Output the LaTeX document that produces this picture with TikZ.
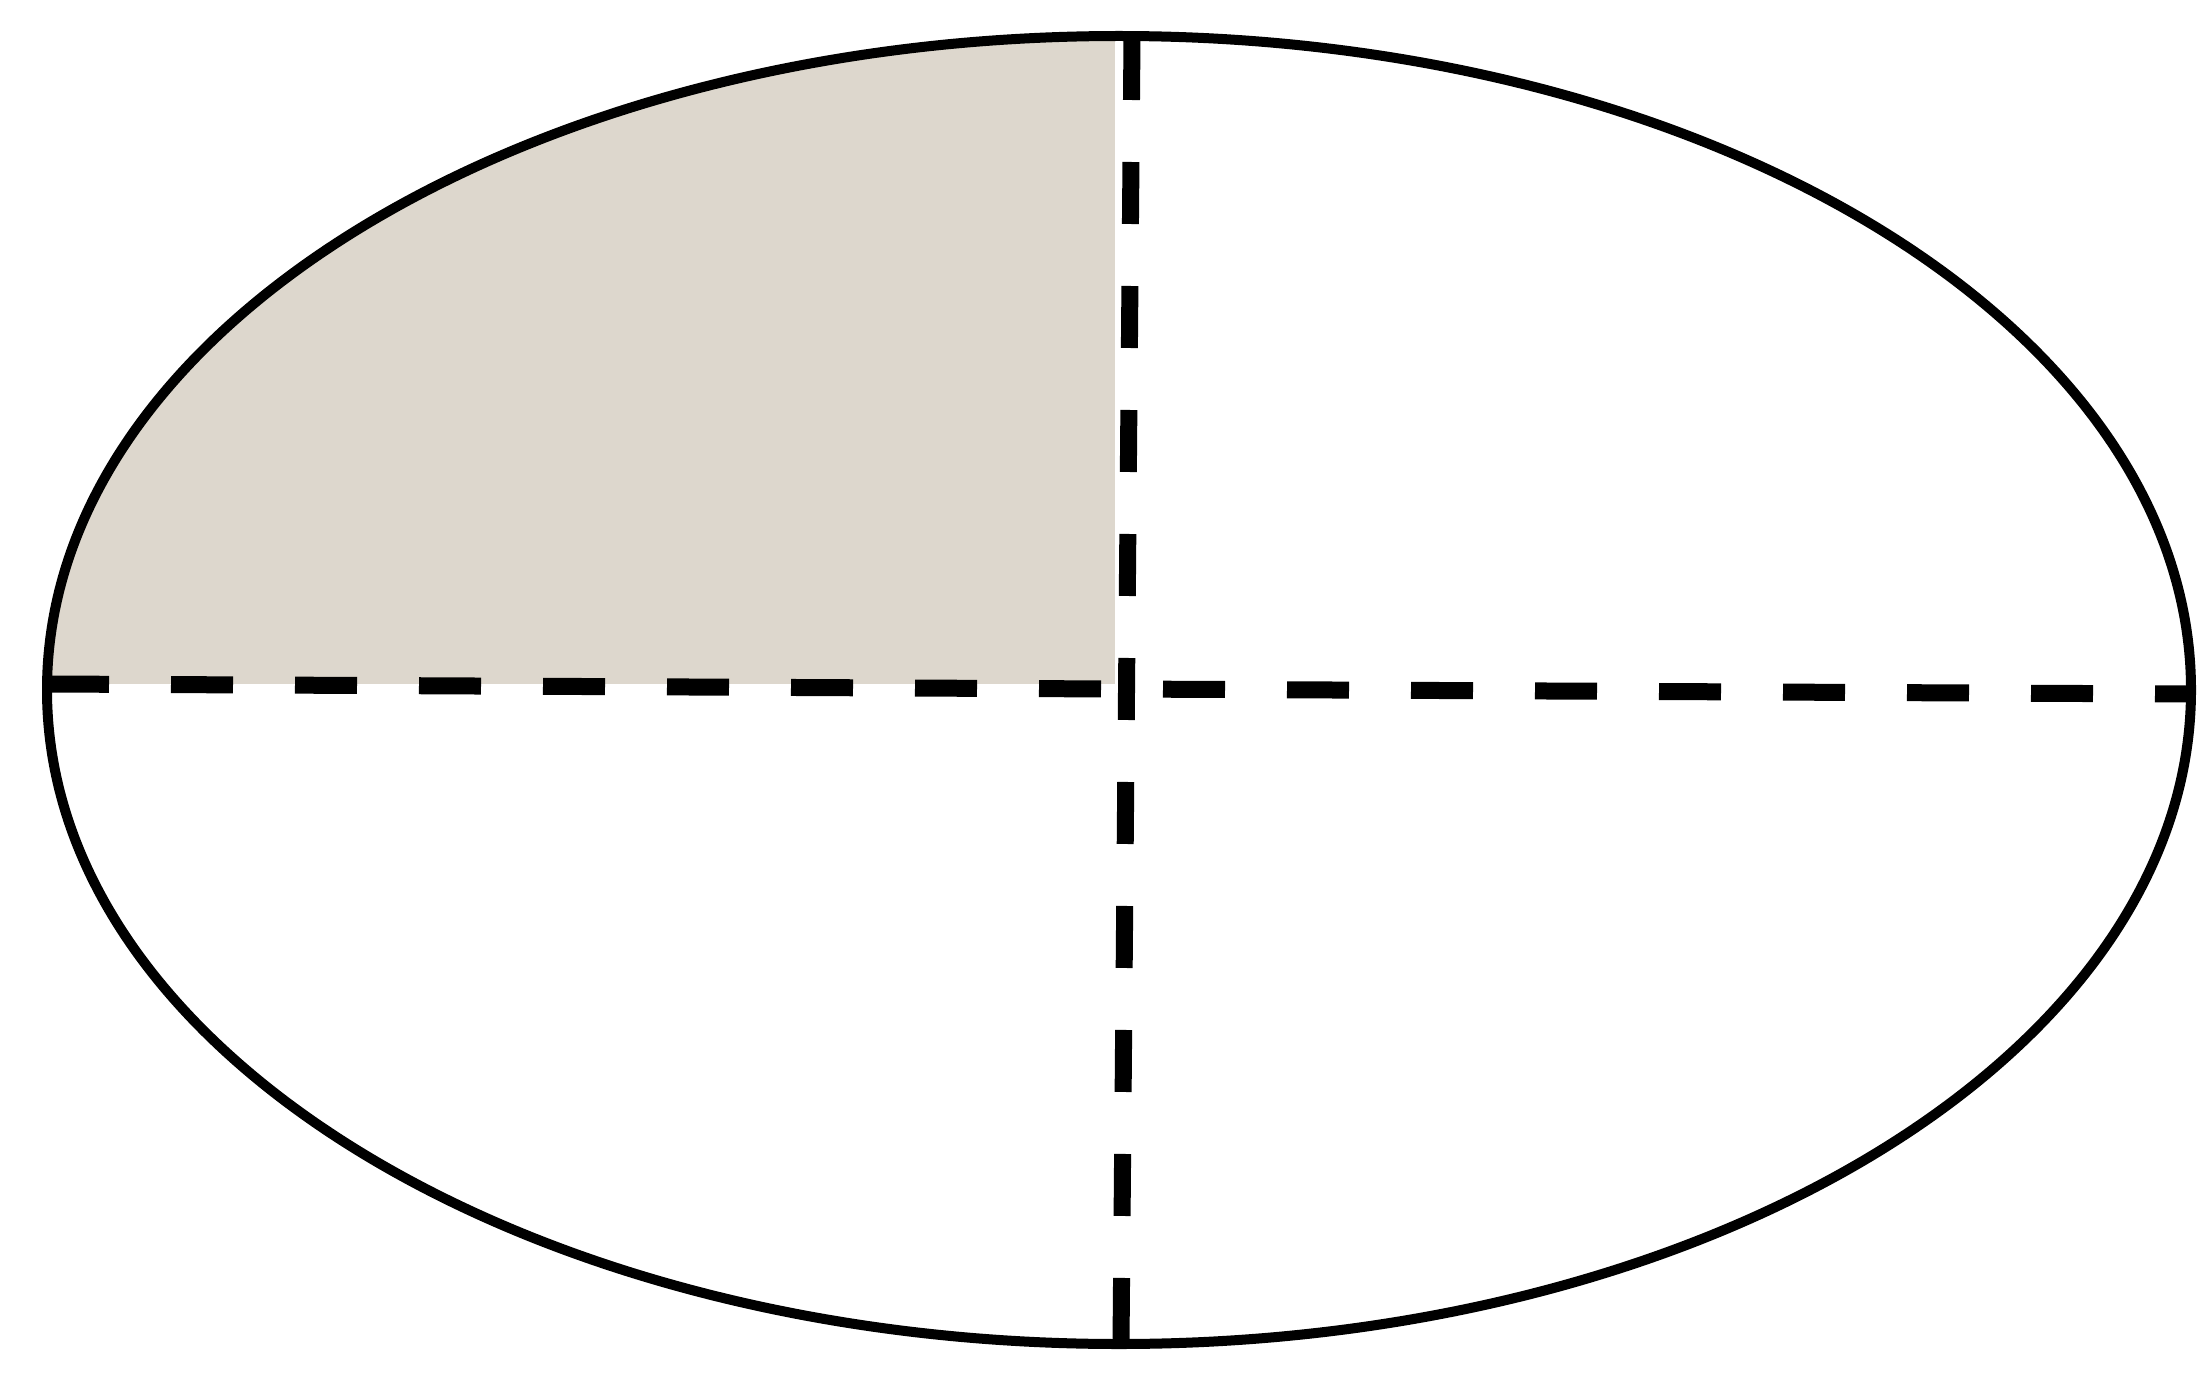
\documentclass[tikz,border=0pt]{standalone}
\definecolor{shadefill}{HTML}{DDD7CD}
\tikzset{
  outline/.style={line width=10pt, black},
  axisdash/.style={line width=17pt, black, dash pattern=on 62pt off 62pt},
}
\begin{document}
\begin{tikzpicture}[x=1pt,y=-1pt]
\useasboundingbox (0,0) rectangle (2199,1380);
\fill[white] (0,0) rectangle (2199,1380);
\coordinate (c) at (1119,690);
\begin{scope}
  \clip (c) ellipse [x radius=1072, y radius=654];
  \fill[shadefill] (0,0) rectangle (1115,684);
\end{scope}
\coordinate (L) at (47,684);
\coordinate (R) at (2191,694);
\coordinate (T) at (1132,38);
\coordinate (B) at (1121,1344);
\draw[axisdash] (L) -- (R);
\draw[axisdash] (T) -- (B);
\draw[outline] (c) ellipse [x radius=1072, y radius=654];
\end{tikzpicture}
\end{document}
